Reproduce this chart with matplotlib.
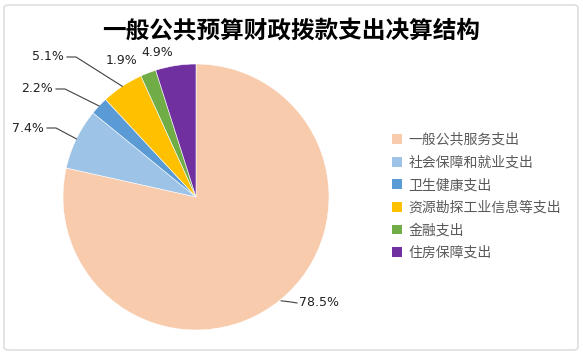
import numpy as np
import matplotlib.pyplot as plt
from matplotlib.patches import Patch, FancyBboxPatch

plt.rcParams['font.family'] = ['Noto Sans CJK SC', 'DejaVu Sans']

title = "一般公共预算财政拨款支出决算结构"
categories = ["一般公共服务支出", "社会保障和就业支出", "卫生健康支出",
              "资源勘探工业信息等支出", "金融支出", "住房保障支出"]
shares = [78.5, 7.4, 2.2, 5.1, 1.9, 4.9]
colors = ["#F8CBAD", "#9DC3E6", "#5B9BD5", "#FFC000", "#70AD47", "#7030A0"]

W, H = 583, 354
fig = plt.figure(figsize=(W / 100, H / 100), dpi=100)
ax = fig.add_axes([0, 0, 1, 1])

# outer chart border
fig.patches.append(FancyBboxPatch((4 / W, 4 / H), 574 / W, 345 / H,
                                  boxstyle="round,pad=0,rounding_size=0.008",
                                  transform=fig.transFigure, fill=False,
                                  edgecolor="#D9D9D9", linewidth=1))

cx, cy, r = 196, 157, 133
wedges, _ = ax.pie(shares, colors=colors, startangle=90, counterclock=False,
                   center=(cx, cy), radius=r, frame=True,
                   wedgeprops=dict(edgecolor='white', linewidth=0.4))
ax.set_xlim(0, W)
ax.set_ylim(0, H)
ax.set_aspect('equal')
ax.axis('off')

# label text anchor (pixel layout) and whether leader line is drawn
label_pos = [(299, 51, 'left', True), (44, 226, 'right', True),
             (53, 265, 'right', True), (64, 297, 'right', True),
             (122, 294, 'center', False), (157, 302, 'center', False)]

for w, v, (tx, ty, ha, line) in zip(wedges, shares, label_pos):
    ang = np.deg2rad((w.theta1 + w.theta2) / 2)
    ex, ey = cx + r * np.cos(ang), cy + r * np.sin(ang)
    ax.text(tx, ty, f"{v}%", ha=ha, va='center', fontsize=9,
            color='#222222', family='DejaVu Sans')
    if line:
        if ha == 'left':
            pts = [(ex + 2, ey), (tx - 8, ty + 1), (tx - 2, ty)]
        else:
            pts = [(tx + 3, ty), (tx + 12, ty), (ex, ey)]
        xs, ys = zip(*pts)
        ax.plot(xs, ys, color='#404040', linewidth=0.8)

ax.text(291, H - 31, title, ha='center', va='center', fontsize=17,
        fontweight='bold', color='black')

handles = [Patch(facecolor=c, edgecolor='none') for c in colors]
leg = ax.legend(handles, categories, loc='upper left',
                bbox_to_anchor=(385 / W, (H - 126) / H), frameon=False,
                fontsize=10, handlelength=0.7, handleheight=0.7,
                handletextpad=0.5, labelspacing=0.62, borderpad=0)
for t in leg.get_texts():
    t.set_color('#595959')

fig.savefig('out.png', dpi=100)
